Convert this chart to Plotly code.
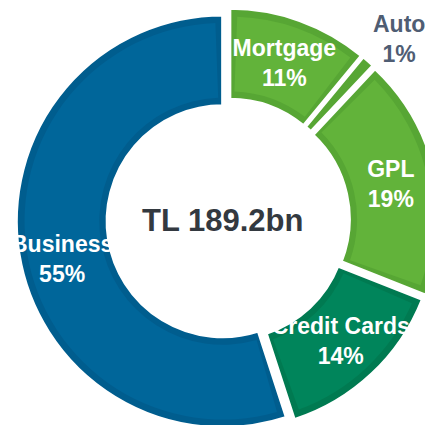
import plotly.graph_objects as go

# loan book breakdown
labels = ["Mortgage", "Auto", "GPL", "Credit Cards", "Business"]
values = [11, 1, 19, 14, 55]
colors = ["#62B33A", "#62B33A", "#62B33A", "#00855B", "#00669A"]
edge_colors = ["#57A634", "#57A634", "#57A634", "#007A51", "#005D8E"]
pulls = [0.03, 0.03, 0.03, 0.02, 0.025]
total_label = "TL 189.2bn"

font_family = "Liberation Sans, Arial, sans-serif"
total = sum(values)

# ring styling
H = 425
gap = 3            # white stroke between slices
band = 8           # darker band along the outer / inner arcs (px)
side_band = 0.6    # darker band along the slice sides (in value units)
hole = 0.56
max_pull = max(pulls)
x_dom = [0.015, 1.0]

r_base = H / 2 / (1 + max_pull)
r_top = r_base - band
top_hole = (hole * r_base + band) / r_top
top_pad = (H / 2 - r_top * (1 + max_pull)) / H

common = dict(sort=False, direction="clockwise", rotation=0, showlegend=False)

# base layer: slices in the edge colour, white gaps between them
fig = go.Figure(go.Pie(
    labels=labels, values=values, pull=pulls, hole=hole, **common,
    domain=dict(x=x_dom, y=[0, 1]),
    marker=dict(colors=edge_colors, line=dict(color="white", width=gap)),
    textinfo="none", hoverinfo="label+percent",
))

# top layer: lighter fill, inset from every edge so the darker band shows
t_labels, t_values, t_colors, t_pulls = [], [], [], []
for l, v, c, p in zip(labels, values, colors, pulls):
    mid = max(v - 2 * side_band, 0)
    side = (v - mid) / 2
    t_labels += [l + " a", l, l + " b"]
    t_values += [side, mid, side]
    t_colors += ["rgba(0,0,0,0)", c, "rgba(0,0,0,0)"]
    t_pulls += [p, p, p]

fig.add_trace(go.Pie(
    labels=t_labels, values=t_values, pull=t_pulls, hole=top_hole, **common,
    domain=dict(x=x_dom, y=[top_pad, 1 - top_pad]),
    marker=dict(colors=t_colors, line=dict(width=0)),
    textinfo="none", hoverinfo="skip",
))

# labels inside Mortgage / GPL / Credit Cards
inside_text = [f"{l}<br>{v / total:.0%}" if l in ("Mortgage", "GPL", "Credit Cards") else ""
               for l, v in zip(labels, values)]
fig.add_trace(go.Pie(
    labels=labels, values=values, pull=pulls, hole=hole, **common,
    domain=dict(x=x_dom, y=[0, 1]),
    marker=dict(colors=["rgba(0,0,0,0)"] * len(labels), line=dict(width=0)),
    text=inside_text, textinfo="text", textposition="inside",
    insidetextorientation="horizontal",
    textfont=dict(family=font_family, size=23, color="white", weight="bold"),
    hoverinfo="skip",
))

# Business label on the left of the ring
fig.add_annotation(text=f"{labels[4]}<br>{values[4] / total:.0%}",
                   x=0.125, y=0.41, xref="paper", yref="paper",
                   xanchor="center", yanchor="middle", showarrow=False,
                   font=dict(family=font_family, size=23, color="white", weight="bold"))

# Auto slice label sits outside the ring
fig.add_annotation(text=f"{labels[1]}<br>{values[1] / total:.0%}",
                   x=0.902, y=0.997, xref="paper", yref="paper",
                   xanchor="center", yanchor="top", showarrow=False,
                   font=dict(family=font_family, size=23, color="#4F5D73", weight="bold"))

fig.add_annotation(text=total_label, x=0.495, y=0.5, xref="paper", yref="paper",
                   xanchor="center", yanchor="middle", showarrow=False,
                   font=dict(family=font_family, size=31, color="#333940", weight="bold"))

fig.update_layout(
    width=433, height=H,
    margin=dict(l=0, r=0, t=0, b=0),
    paper_bgcolor="white",
    uniformtext=dict(mode="show", minsize=23),
)

fig.write_html("out.html")
